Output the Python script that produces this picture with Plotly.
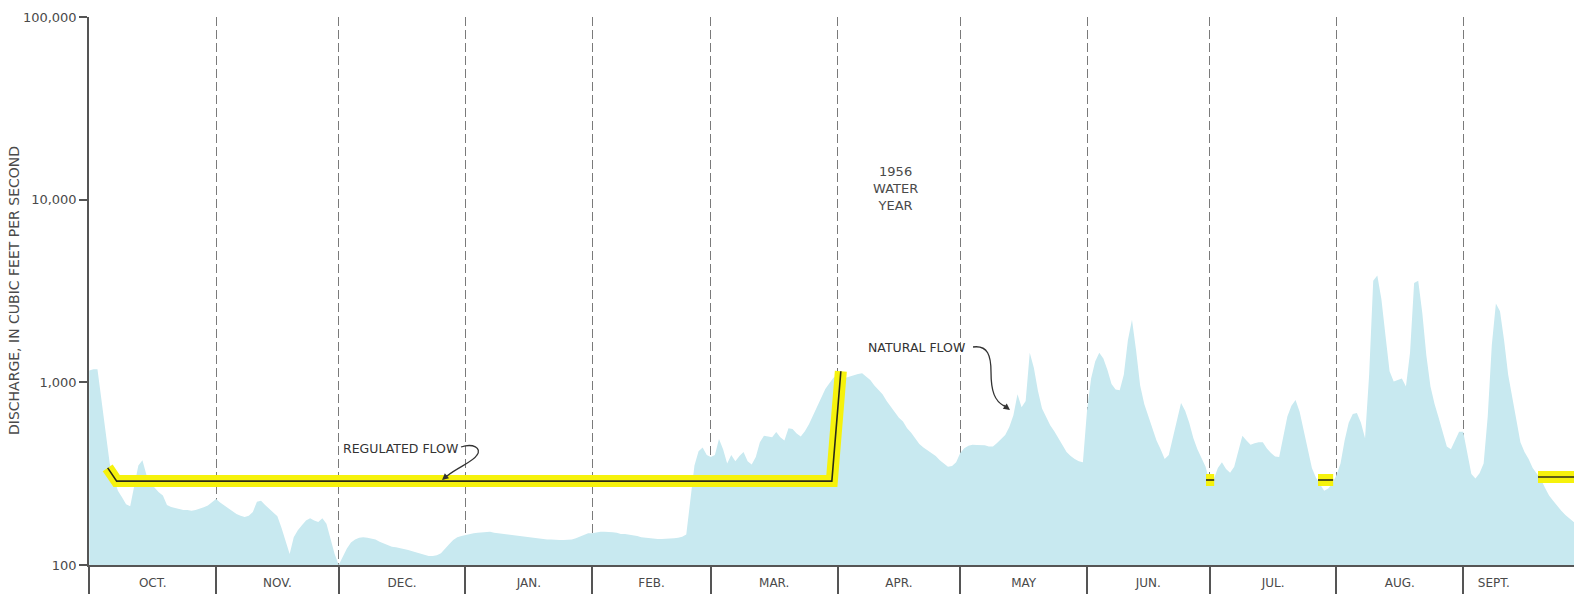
import plotly.graph_objects as go

# ---- data: 1956 water year (Oct 1955 - Sep 1956), discharge in cfs ----
months = ["OCT.", "NOV.", "DEC.", "JAN.", "FEB.", "MAR.", "APR.", "MAY",
          "JUN.", "JUL.", "AUG.", "SEPT."]
month_days = [31, 30, 31, 31, 29, 31, 30, 31, 30, 31, 31, 30]

# Natural flow, daily values per month
oct_cfs = [1160, 1180, 1180, 800, 517, 360, 300, 255, 235, 215,
           210, 270, 350, 375, 310, 280, 265, 250, 240, 213,
           208, 205, 203, 200, 200, 198, 200, 203, 207, 212, 220]
nov_cfs = [230, 220, 212, 205, 196, 190, 186, 183, 186, 195,
           222, 225, 213, 203, 195, 185, 160, 135, 115, 142,
           155, 165, 175, 180, 175, 172, 180, 168, 140, 115]
dec_cfs = [100, 112, 123, 133, 138, 141, 142, 141, 140, 138,
           134, 131, 128, 126, 125, 124, 123, 121, 119, 117,
           115, 113, 112, 112, 113, 116, 122, 130, 137, 142, 144]
jan_cfs = [146, 148, 149, 150, 151, 152, 152, 150, 149, 148,
           147, 146, 145, 144, 143, 142, 142, 141, 140, 139,
           138, 138, 137, 137, 137, 137, 138, 140, 143, 146, 149]
feb_cfs = [149, 151, 152, 152, 152, 151, 150, 148, 148, 147,
           146, 144, 142, 141, 140, 139, 139, 139, 139, 139,
           140, 141, 143, 147, 230, 350, 420, 440, 400]
mar_cfs = [390, 400, 490, 430, 360, 400, 370, 395, 415, 370,
           355, 390, 470, 510, 505, 500, 535, 500, 480, 560,
           555, 525, 505, 540, 590, 660, 750, 830, 920, 990, 1060]
apr_cfs = [1090, 1090, 1060, 1080, 1100, 1110, 1120, 1080, 1030, 960,
           910, 860, 790, 740, 690, 640, 610, 560, 530, 490,
           460, 440, 425, 410, 395, 375, 360, 345, 348, 365]
may_cfs = [410, 435, 450, 455, 454, 455, 452, 445, 445, 465,
           490, 515, 570, 660, 860, 730, 790, 1450, 1200, 900,
           720, 650, 583, 540, 494, 450, 415, 395, 380, 370, 365]
jun_cfs = [700, 1050, 1300, 1450, 1350, 1170, 980, 915, 905, 1100,
           1700, 2200, 1500, 960, 760, 650, 555, 480, 430, 380,
           400, 500, 630, 770, 700, 600, 495, 430, 385, 345]
jul_cfs = [285, 295, 340, 365, 335, 320, 345, 420, 510, 480,
           455, 464, 470, 470, 434, 410, 393, 390, 500, 650,
           745, 800, 690, 540, 430, 340, 300, 274, 255, 262, 280]
aug_cfs = [310, 360, 480, 600, 670, 680, 600, 494, 1100, 3600,
           3850, 2850, 1800, 1150, 1010, 1030, 1050, 950, 1450, 3500,
           3600, 2400, 1400, 950, 760, 640, 530, 445, 430, 480, 537]
sep_cfs = [537, 410, 315, 298, 318, 360, 650, 1600, 2700, 2450,
           1700, 1100, 820, 600, 470, 415, 380, 340, 315, 295,
           265, 240, 225, 210, 198, 188, 180, 172, 165, 160]

# Regulated flow: (day of water year, cfs); None breaks the line
reg_day = [4.5, 6.7, 181.6, 183.8, None, 273.1, 275.1, None,
           300.5, 304.2, None, 354.3, 366.0]
reg_cfs = [340, 288, 288, 1150, None, 292, 292, None,
           292, 292, None, 303, 303]

# ---- derived series ----
natural_cfs = (oct_cfs + nov_cfs + dec_cfs + jan_cfs + feb_cfs + mar_cfs +
               apr_cfs + may_cfs + jun_cfs + jul_cfs + aug_cfs + sep_cfs)
days = list(range(len(natural_cfs)))

bounds = [0]
for n in month_days:
    bounds.append(bounds[-1] + n)
tick_days = [b + n / 2 for b, n in zip(bounds[:-1], month_days)]
tick_days[-1] = bounds[-2] + 7.5   # SEPT. label sits early in the month

# ---- styling ----
INK = "#4a4a4a"
AXIS = "#555555"
GRID = "#7a7a7a"
WATER = "#c8e9f0"
YELLOW = "#f6f20c"
FONT = "DejaVu Sans"

W, H = 1574, 594
L, R, T, B = 89, 0, 17, 29
PW, PH = W - L - R, H - T - B
X_RANGE = [-0.07, 363.1]


def px(x):
    return (x - L) / PW


def py(y):
    return (T + PH - y) / PH


fig = go.Figure()

fig.add_trace(go.Scatter(
    x=days, y=natural_cfs, mode="lines", fill="tozeroy",
    line=dict(color=WATER, width=0), fillcolor=WATER,
    hoverinfo="skip", name="Natural flow"))

fig.add_trace(go.Scatter(
    x=reg_day, y=reg_cfs, mode="lines", connectgaps=False,
    line=dict(color=YELLOW, width=12), hoverinfo="skip",
    name="Regulated flow band"))
fig.add_trace(go.Scatter(
    x=reg_day, y=reg_cfs, mode="lines", connectgaps=False,
    line=dict(color="#2b2b18", width=1.6), hoverinfo="skip",
    name="Regulated flow"))

fig.update_layout(
    width=W, height=H,
    margin=dict(l=L, r=R, t=T, b=B, pad=0),
    plot_bgcolor="white", paper_bgcolor="white",
    showlegend=False,
    font=dict(family=FONT, color=INK, size=12),
)

fig.update_xaxes(
    range=X_RANGE, showline=True, linecolor=AXIS, linewidth=1.5,
    tickmode="array", tickvals=tick_days, ticktext=months,
    ticks="", showgrid=False, zeroline=False,
    tickfont=dict(size=12, color=INK, family=FONT),
    ticklabelstandoff=6,
    minor=dict(tickmode="array", tickvals=bounds[:-1], ticks="outside",
               ticklen=31, tickcolor=AXIS, tickwidth=1.5,
               showgrid=True, gridcolor=GRID, gridwidth=1.3,
               griddash="9px,4px"),
)

fig.update_yaxes(
    type="log", range=[2, 5], showline=True, linecolor=AXIS, linewidth=1.5,
    tickmode="array", tickvals=[100, 1000, 10000, 100000],
    ticktext=["100", "1,000", "10,000", "100,000"],
    ticks="outside", ticklen=8, tickcolor=AXIS, tickwidth=1.5,
    showgrid=False, zeroline=False,
    tickfont=dict(size=13, color=INK, family=FONT),
)

annotations = [
    dict(text="DISCHARGE, IN CUBIC FEET PER SECOND", textangle=-90,
         xref="paper", yref="paper", x=px(14), y=0.5,
         xanchor="center", yanchor="middle", showarrow=False,
         font=dict(size=14, color=INK)),
    dict(text="1956<br>WATER<br>YEAR", xref="paper", yref="paper",
         x=px(895), y=py(189), xanchor="center", yanchor="middle",
         showarrow=False, font=dict(size=13, color=INK)),
    dict(text="NATURAL FLOW", xref="paper", yref="paper",
         x=px(866), y=py(347), xanchor="left", yanchor="middle",
         showarrow=False, font=dict(size=12.5, color="#333333")),
    dict(text="REGULATED FLOW", xref="paper", yref="paper",
         x=px(341), y=py(448), xanchor="left", yanchor="middle",
         showarrow=False, font=dict(size=12.5, color="#333333")),
    # arrowheads at the ends of the leader curves
    dict(text="", xref="paper", yref="paper", x=px(1010), y=py(410),
         ax=-8, ay=-6, showarrow=True, arrowhead=2, arrowsize=1,
         arrowwidth=1.3, arrowcolor="#333333"),
    dict(text="", xref="paper", yref="paper", x=px(442), y=py(480),
         ax=7, ay=-6, showarrow=True, arrowhead=2, arrowsize=1,
         arrowwidth=1.3, arrowcolor="#333333"),
]
fig.update_layout(annotations=annotations)


def leader(points):
    """SVG cubic path in paper coordinates from pixel control points."""
    (x0, y0), rest = points[0], points[1:]
    d = f"M {px(x0):.5f},{py(y0):.5f}"
    for i in range(0, len(rest), 3):
        c = rest[i:i + 3]
        d += " C " + " ".join(f"{px(x):.5f},{py(y):.5f}" for x, y in c)
    return d


fig.add_shape(type="path", xref="paper", yref="paper",
              path=leader([(973, 347), (988, 345), (991, 356), (991, 372),
                           (991, 392), (995, 401), (1004, 406)]),
              line=dict(color="#333333", width=1.3))
fig.add_shape(type="path", xref="paper", yref="paper",
              path=leader([(461, 447), (473, 443), (482, 448), (477, 455),
                           (473, 462), (458, 467), (447, 476)]),
              line=dict(color="#333333", width=1.3))

fig.write_html("out.html")
